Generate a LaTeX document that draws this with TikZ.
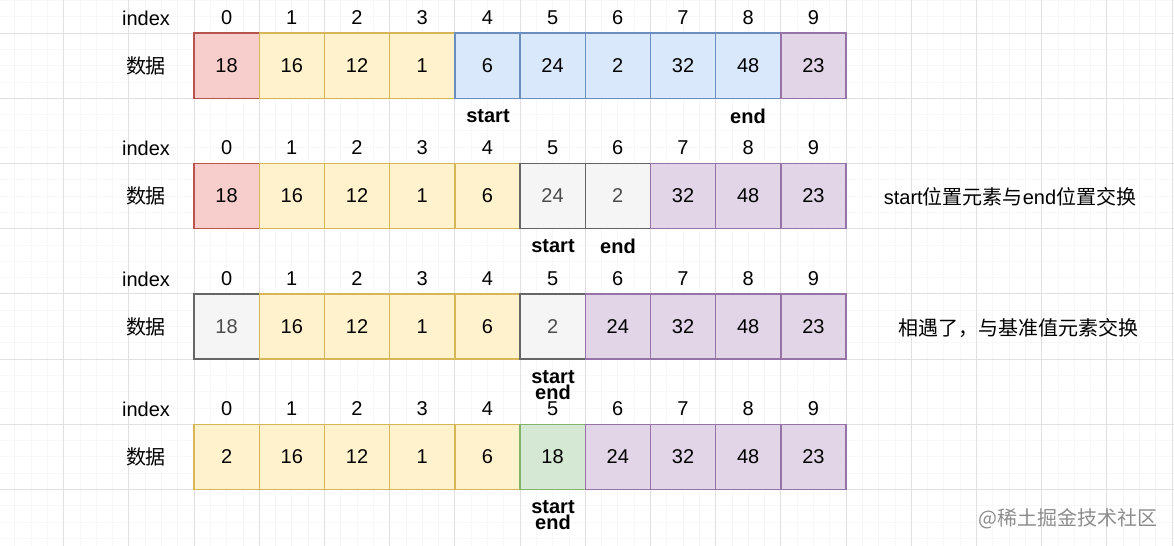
\documentclass[tikz,border=0pt]{standalone}
\usepackage{fontspec}
\setmainfont{Liberation Sans}
\newfontfamily\cjk{Noto Sans CJK SC}

\definecolor{redfill}{HTML}{F8CECC}
\definecolor{redline}{HTML}{B85450}
\definecolor{yelfill}{HTML}{FFF2CC}
\definecolor{yelline}{HTML}{D6B656}
\definecolor{bluefill}{HTML}{DAE8FC}
\definecolor{blueline}{HTML}{6C8EBF}
\definecolor{purpfill}{HTML}{E1D5E7}
\definecolor{purpline}{HTML}{9673A6}
\definecolor{grayfill}{HTML}{F5F5F5}
\definecolor{grayline}{HTML}{666666}
\definecolor{greenfill}{HTML}{D5E8D4}
\definecolor{greenline}{HTML}{82B366}

\tikzset{
  txt/.style={inner sep=0pt, font=\fontsize{10}{12}\selectfont},
  cell/.style={txt, draw, minimum width=32.6pt, minimum height=32.6pt, line width=0.7pt},
  redcell/.style={cell, fill=redfill, draw=redline},
  yelcell/.style={cell, fill=yelfill, draw=yelline},
  bluecell/.style={cell, fill=bluefill, draw=blueline},
  purpcell/.style={cell, fill=purpfill, draw=purpline},
  graycell/.style={cell, fill=grayfill, draw=grayline, text=black!70},
  greencell/.style={cell, fill=greenfill, draw=greenline},
  ptr/.style={inner sep=0pt, align=center, font=\bfseries\fontsize{10}{8.2}\selectfont},
}

\begin{document}
\begin{tikzpicture}[x=0.5pt, y=-0.5pt]
    \useasboundingbox (0,0) rectangle (1174,546);
    % Grid
    \foreach \k in {-12,...,72}
      \draw[black!3, line width=0.4pt] ({194+16.3*\k},0) -- ({194+16.3*\k},546);
    \foreach \k in {-2,...,31}
      \draw[black!3, line width=0.4pt] (0,{33+16.3*\k}) -- (1174,{33+16.3*\k});
    \foreach \k in {-3,...,15}
      \draw[black!12, line width=0.5pt] ({194+65.2*\k},0) -- ({194+65.2*\k},546);
    \foreach \k in {0,...,7}
      \draw[black!12, line width=0.5pt] (0,{33+65.2*\k}) -- (1174,{33+65.2*\k});

    % Row 1
    \node[txt] (idx1) at (146,18) {index};
    \node[txt] (dat1) at (146,66) {\cjk 数据};
    \foreach \v/\s [count=\i from 0] in {18/redcell, 16/yelcell, 12/yelcell, 1/yelcell, 6/bluecell,
        24/bluecell, 2/bluecell, 32/bluecell, 48/bluecell, 23/purpcell} {
      \node[txt] (r1i\i) at ({226.6+65.2*\i},18) {\i};
      \node[\s] (r1c\i) at ({226.6+65.2*\i},65.6) {\v};
    }
    \node[ptr] (start1) at (488,116) {start};
    \node[ptr] (end1) at (748,116) {end};

    % Row 2
    \node[txt] (idx2) at (146,148) {index};
    \node[txt] (dat2) at (146,196) {\cjk 数据};
    \foreach \v/\s [count=\i from 0] in {18/redcell, 16/yelcell, 12/yelcell, 1/yelcell, 6/yelcell,
        24/graycell, 2/graycell, 32/purpcell, 48/purpcell, 23/purpcell} {
      \node[txt] (r2i\i) at ({226.6+65.2*\i},148) {\i};
      \node[\s] (r2c\i) at ({226.6+65.2*\i},196) {\v};
    }
    \node[ptr] (start2) at (553,246) {start};
    \node[ptr] (end2) at (618,246) {end};
    \node[txt] (note2) at (1010,197) {start{\cjk 位置元素与}end{\cjk 位置交换}};

    % Row 3
    \node[txt] (idx3) at (146,279) {index};
    \node[txt] (dat3) at (146,327) {\cjk 数据};
    \foreach \v/\s [count=\i from 0] in {18/graycell, 16/yelcell, 12/yelcell, 1/yelcell, 6/yelcell,
        2/graycell, 24/purpcell, 32/purpcell, 48/purpcell, 23/purpcell} {
      \node[txt] (r3i\i) at ({226.6+65.2*\i},279) {\i};
      \node[\s] (r3c\i) at ({226.6+65.2*\i},326.4) {\v};
    }
    \node[ptr] (start3) at (553,385) {start\\end};
    \node[txt] (note3) at (1018,328) {\cjk 相遇了，与基准值元素交换};

    % Row 4
    \node[txt] (idx4) at (146,409) {index};
    \node[txt] (dat4) at (146,457) {\cjk 数据};
    \foreach \v/\s [count=\i from 0] in {2/yelcell, 16/yelcell, 12/yelcell, 1/yelcell, 6/yelcell,
        18/greencell, 24/purpcell, 32/purpcell, 48/purpcell, 23/purpcell} {
      \node[txt] (r4i\i) at ({226.6+65.2*\i},409) {\i};
      \node[\s] (r4c\i) at ({226.6+65.2*\i},456.8) {\v};
    }
    \node[ptr] (start4) at (553,515) {start\\end};

    % Watermark
    \node[txt, text=black!45] (mark) at (1068,519) {\cjk @稀土掘金技术社区};
  \end{tikzpicture}
\end{document}
